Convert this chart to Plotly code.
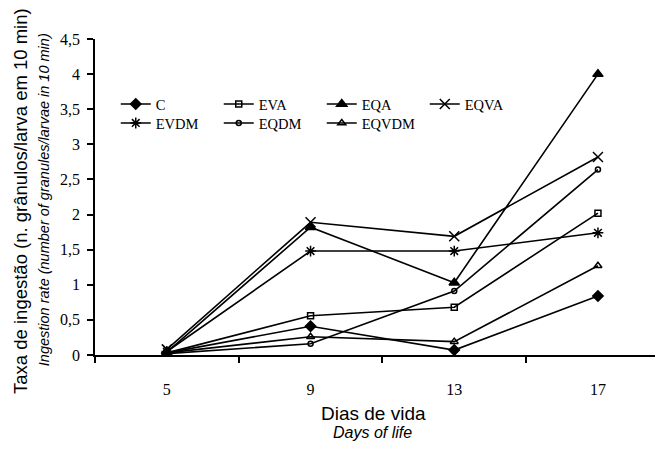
import plotly.graph_objects as go

days = ["5", "9", "13", "17"]
series_names = ["C", "EVA", "EQA", "EQVA", "EVDM", "EQDM", "EQVDM"]
C = [0.03, 0.41, 0.07, 0.84]
EVA = [0.03, 0.56, 0.68, 2.02]
EQA = [0.04, 1.82, 1.03, 4.0]
EQVA = [0.08, 1.89, 1.69, 2.82]
EVDM = [0.05, 1.48, 1.48, 1.74]
EQDM = [0.02, 0.16, 0.91, 2.64]
EQVDM = [0.03, 0.26, 0.19, 1.27]
values = [C, EVA, EQA, EQVA, EVDM, EQDM, EQVDM]

symbols = ["diamond", "square-open", "triangle-up", "x-thin-open",
           "asterisk-open", "circle-open", "triangle-up-open"]
sizes = [8, 6, 9, 10, 9, 5, 7]

fig = go.Figure()
for i, (name, vals) in enumerate(zip(series_names, values)):
    fig.add_trace(go.Scatter(
        x=days, y=vals, name=name, mode="lines+markers",
        line=dict(color="black", width=1.6),
        marker=dict(symbol=symbols[i], size=sizes[i], color="black",
                    line=dict(color="black", width=1.5)),
        legend="legend" if i < 4 else "legend2",
    ))

legend_common = dict(
    orientation="h", bgcolor="rgba(0,0,0,0)",
    font=dict(family="Liberation Serif", size=14.5, color="black"),
    entrywidth=58, entrywidthmode="pixels", itemwidth=30,
    xanchor="left", yanchor="middle", tracegroupgap=0,
)

fig.update_layout(
    width=655, height=450,
    margin=dict(l=87, r=7, t=31, b=103),
    paper_bgcolor="white", plot_bgcolor="white",
    separators=", ",
    showlegend=True,
    legend=dict(x=0.037, y=0.794, **legend_common),
    legend2=dict(x=0.037, y=0.734, **legend_common),
    xaxis=dict(
        type="category", tickson="boundaries", ticks="outside", ticklen=6,
        tickcolor="black", tickwidth=1.5,
        showline=True, linecolor="black", linewidth=1.5,
        showgrid=False, zeroline=False, ticklabelstandoff=19,
        tickfont=dict(family="Liberation Serif", size=16, color="black"),
        range=[-0.5, 3.404],
    ),
    yaxis=dict(
        range=[0, 4.5], dtick=0.5, tick0=0, ticks="outside", ticklen=6,
        tickcolor="black", tickwidth=1.5,
        showline=True, linecolor="black", linewidth=1.5,
        showgrid=False, zeroline=False, ticklabelstandoff=4,
        tickfont=dict(family="Liberation Serif", size=16, color="black"),
    ),
    annotations=[
        dict(text="Taxa de ingestão (n. grânulos/larva em 10 min)", textangle=-90,
             xref="paper", yref="paper", x=-0.134, y=0.487, xanchor="center", yanchor="middle",
             showarrow=False, font=dict(family="Liberation Sans", size=18.5, color="black")),
        dict(text="<i>Ingestion rate (number of granules/larvae in 10 min)</i>", textangle=-90,
             xref="paper", yref="paper", x=-0.091, y=0.493, xanchor="center", yanchor="middle",
             showarrow=False, font=dict(family="Liberation Sans", size=14.5, color="black")),
        dict(text="Dias de vida", xref="paper", yref="paper", x=0.496, y=-0.184,
             xanchor="center", yanchor="middle", showarrow=False,
             font=dict(family="Liberation Sans", size=19, color="black")),
        dict(text="<i>Days of life</i>", xref="paper", yref="paper", x=0.494, y=-0.246,
             xanchor="center", yanchor="middle", showarrow=False,
             font=dict(family="Liberation Sans", size=16, color="black")),
    ],
)

fig.write_html("out.html")
